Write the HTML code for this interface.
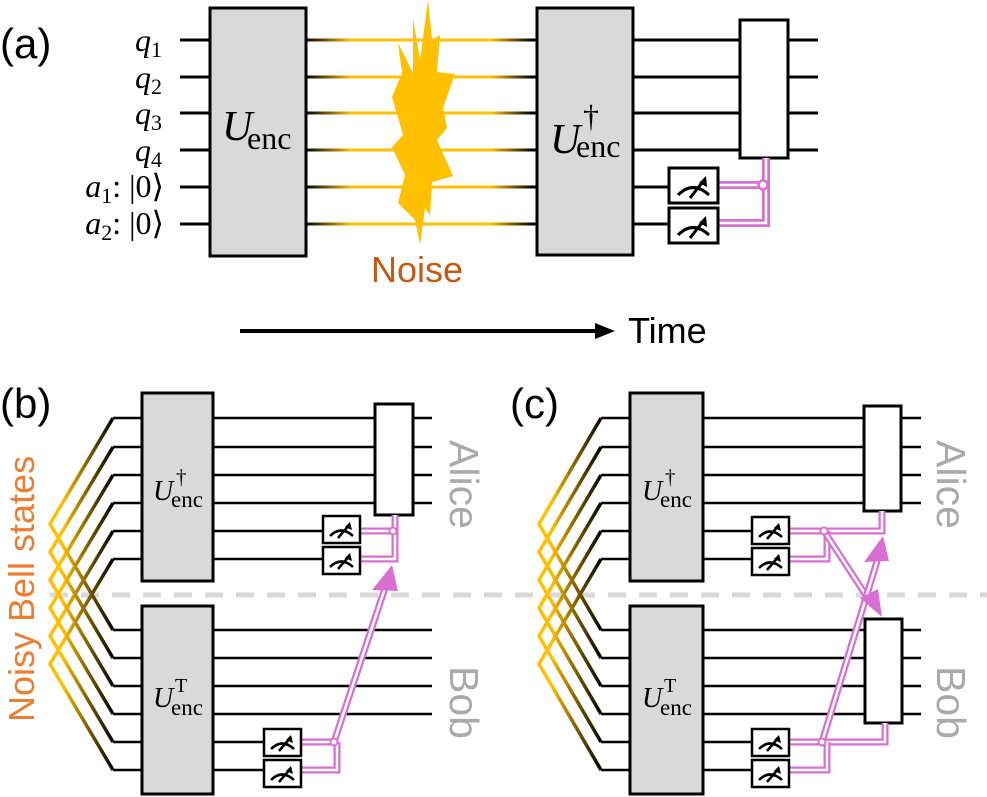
<!DOCTYPE html>
<html><head><meta charset="utf-8"><style>
body{margin:0;background:#fff;}
svg{display:block;}
.sf{font-family:"Liberation Serif",serif;}
.ss{font-family:"Liberation Sans",sans-serif;}
</style></head><body>
<svg width="987" height="797" viewBox="0 0 987 797" xmlns="http://www.w3.org/2000/svg">
<defs>
<linearGradient id="ga" gradientUnits="userSpaceOnUse" x1="306" y1="0" x2="532" y2="0">
<stop offset="0" stop-color="#000"/><stop offset="0.2" stop-color="#ffc000"/><stop offset="0.82" stop-color="#ffc000"/><stop offset="1" stop-color="#000"/></linearGradient>
<linearGradient id="gb" gradientUnits="userSpaceOnUse" x1="50" y1="0" x2="113" y2="0">
<stop offset="0.2" stop-color="#ffc000"/><stop offset="1" stop-color="#000"/></linearGradient>
<linearGradient id="gc" gradientUnits="userSpaceOnUse" x1="539" y1="0" x2="601" y2="0">
<stop offset="0.2" stop-color="#ffc000"/><stop offset="1" stop-color="#000"/></linearGradient>
<g id="meas"><rect x="0" y="0" width="37" height="27" fill="#fff" stroke="#000" stroke-width="2.5"/>
<path d="M7,20 Q18,9 30,20" fill="none" stroke="#000" stroke-width="2.5"/><path d="M15,22 L27,8" stroke="#000" stroke-width="2.5"/><path d="M27,6 L29,14 L22,11 Z" fill="#000"/></g>
<g id="measA"><rect x="0" y="0" width="49" height="35" fill="#fff" stroke="#000" stroke-width="3"/>
<path d="M9,27 Q24,12 40,27" fill="none" stroke="#000" stroke-width="3"/><path d="M21,30 L36,11" stroke="#000" stroke-width="3"/><path d="M37,8 L38,19 L30,15 Z" fill="#000"/></g>
</defs>

<!-- ===== Panel (a) ===== -->
<text x="0" y="58" class="ss" font-size="42">(a)</text>
<g stroke="#000" stroke-width="3">
<path d="M180,40H210M180,77H210M180,113H210M180,150H210M180,187H210M180,224H210"/>
<path d="M633,40H818M633,77H818M633,113H818M633,150H818M633,187H669M633,224H669"/>
</g>
<g stroke="url(#ga)" stroke-width="3">
<path d="M306,40H537M306,77H537M306,113H537M306,150H537M306,187H537M306,224H537"/>
</g>
<polygon fill="#ffc000" points="428,0 432,40 440,35 437,72 455,74 443,108 447,128 437,140 453,176 432,182 430,215 425,208 420,245 415,220 398,203 405,175 392,147 403,135 392,97 402,73 398,43 413,73 413,18 420,60"/>
<rect x="210" y="8" width="96" height="248" fill="#d9d9d9" stroke="#000" stroke-width="3"/>
<rect x="537" y="8" width="96" height="247" fill="#d9d9d9" stroke="#000" stroke-width="3"/>
<text x="222" y="140" class="sf" font-size="42" font-style="italic">U</text><text x="247" y="149" class="sf" font-size="32">enc</text>
<text x="550" y="153" class="sf" font-size="42" font-style="italic">U</text><text x="576" y="157" class="sf" font-size="32">enc</text><text x="583" y="127" class="sf" font-size="32">†</text>
<g class="sf" font-size="32" text-anchor="end">
<text x="162" y="51"><tspan font-style="italic">q</tspan><tspan font-size="22" dy="6">1</tspan></text>
<text x="162" y="88"><tspan font-style="italic">q</tspan><tspan font-size="22" dy="6">2</tspan></text>
<text x="162" y="124"><tspan font-style="italic">q</tspan><tspan font-size="22" dy="6">3</tspan></text>
<text x="162" y="161"><tspan font-style="italic">q</tspan><tspan font-size="22" dy="6">4</tspan></text>
<text x="164" y="197"><tspan font-style="italic">a</tspan><tspan font-size="22" dy="6">1</tspan><tspan dy="-6">: |0⟩</tspan></text>
<text x="164" y="234"><tspan font-style="italic">a</tspan><tspan font-size="22" dy="6">2</tspan><tspan dy="-6">: |0⟩</tspan></text>
</g>
<text x="371" y="282" class="ss" font-size="36" fill="#c55a11">Noise</text>
<rect x="740" y="20" width="48" height="138" fill="#fff" stroke="#000" stroke-width="3"/>
<g fill="none">
<path d="M718,223H766V158" stroke="#d86fd2" stroke-width="8"/><path d="M718,223H766V158" stroke="#fff" stroke-width="2.5"/>
<path d="M718,185H762" stroke="#d86fd2" stroke-width="8"/><path d="M718,185H762" stroke="#fff" stroke-width="2.5"/>
</g>
<circle cx="763" cy="185" r="4.5" fill="#fff" stroke="#d86fd2" stroke-width="2.5"/>
<use href="#measA" x="669" y="168"/><use href="#measA" x="669" y="208"/>
<path d="M240,331H600" stroke="#000" stroke-width="4"/><path d="M615,331L595,323L595,339Z" fill="#000"/>
<text x="628" y="343" class="ss" font-size="36">Time</text>

<!-- dashed line -->
<path d="M50,595H987" stroke="#d9d9d9" stroke-width="5" stroke-dasharray="18,13"/>

<!-- ===== Panel (b) ===== -->
<text x="0" y="418" class="ss" font-size="42">(b)</text>
<g fill="none" stroke="url(#gb)" stroke-width="3.5">
<path d="M113,418L50,524L113,630"/><path d="M113,447L50,552L113,658"/><path d="M113,475L50,580L113,686"/><path d="M113,503L50,608L113,714"/><path d="M113,531L50,636L113,742"/><path d="M113,559L50,664L113,770"/>
</g>
<g stroke="#000" stroke-width="2.5">
<path d="M113,418H432M113,447H432M113,475H432M113,503H432M113,531H323M113,559H323"/>
<path d="M113,630H432M113,658H432M113,686H432M113,714H432M113,742H264M113,770H264"/>
</g>
<rect x="142" y="393" width="71" height="188" fill="#d9d9d9" stroke="#000" stroke-width="3"/>
<rect x="142" y="606" width="71" height="188" fill="#d9d9d9" stroke="#000" stroke-width="3"/>
<text x="153" y="500" class="sf" font-size="28" font-style="italic">U</text><text x="171" y="507" class="sf" font-size="23">enc</text><text x="176" y="484" class="sf" font-size="21">†</text>
<text x="153" y="707" class="sf" font-size="28" font-style="italic">U</text><text x="171" y="715" class="sf" font-size="23">enc</text><text x="175" y="692" class="sf" font-size="20">T</text>
<rect x="375" y="404" width="38" height="111" fill="#fff" stroke="#000" stroke-width="3"/>
<g fill="none">
<path d="M360,559H395V515" stroke="#d86fd2" stroke-width="7"/><path d="M360,559H395V515" stroke="#fff" stroke-width="2.5"/>
<path d="M360,531H392" stroke="#d86fd2" stroke-width="7"/><path d="M360,531H392" stroke="#fff" stroke-width="2.5"/>
<path d="M300,770H337V742" stroke="#d86fd2" stroke-width="7"/><path d="M300,770H337V742" stroke="#fff" stroke-width="2.5"/>
<path d="M300,742H333" stroke="#d86fd2" stroke-width="7"/><path d="M300,742H333" stroke="#fff" stroke-width="2.5"/>
<path d="M334,742L387,582" stroke="#d86fd2" stroke-width="7"/><path d="M334,742L388,579" stroke="#fff" stroke-width="2.5"/>
</g>
<path d="M392,565L372,590L398,591Z" fill="#d86fd2"/>
<circle cx="393" cy="531" r="3.5" fill="#fff" stroke="#d86fd2" stroke-width="2"/>
<circle cx="334" cy="742" r="3.5" fill="#fff" stroke="#d86fd2" stroke-width="2"/>
<use href="#meas" x="323" y="516"/><use href="#meas" x="323" y="547"/>
<use href="#meas" x="264" y="729"/><use href="#meas" x="264" y="760"/>
<text transform="translate(450,440) rotate(90)" class="ss" font-size="41" fill="#aaaaaa">Alice</text>
<text transform="translate(450,666) rotate(90)" class="ss" font-size="41" fill="#aaaaaa">Bob</text>
<text transform="translate(34,722) rotate(-90)" class="ss" font-size="36" fill="#ed7d31">Noisy Bell states</text>

<!-- ===== Panel (c) ===== -->
<text x="510" y="418" class="ss" font-size="42">(c)</text>
<g fill="none" stroke="url(#gc)" stroke-width="3.5">
<path d="M601,418L539,524L601,630"/><path d="M601,447L539,552L601,658"/><path d="M601,475L539,580L601,686"/><path d="M601,503L539,608L601,714"/><path d="M601,531L539,636L601,742"/><path d="M601,559L539,664L601,770"/>
</g>
<g stroke="#000" stroke-width="2.5">
<path d="M601,418H921M601,447H921M601,475H921M601,503H921M601,531H752M601,559H752"/>
<path d="M601,630H921M601,658H921M601,686H921M601,714H921M601,742H752M601,770H752"/>
</g>
<rect x="630" y="393" width="73" height="188" fill="#d9d9d9" stroke="#000" stroke-width="3"/>
<rect x="630" y="606" width="73" height="188" fill="#d9d9d9" stroke="#000" stroke-width="3"/>
<text x="642" y="500" class="sf" font-size="28" font-style="italic">U</text><text x="660" y="507" class="sf" font-size="23">enc</text><text x="665" y="484" class="sf" font-size="21">†</text>
<text x="642" y="707" class="sf" font-size="28" font-style="italic">U</text><text x="660" y="715" class="sf" font-size="23">enc</text><text x="664" y="692" class="sf" font-size="20">T</text>
<rect x="864" y="406" width="37" height="105" fill="#fff" stroke="#000" stroke-width="3"/>
<rect x="865" y="619" width="37" height="104" fill="#fff" stroke="#000" stroke-width="3"/>
<g fill="none">
<path d="M790,531H882V511" stroke="#d86fd2" stroke-width="7"/><path d="M790,531H882V511" stroke="#fff" stroke-width="2.5"/>
<path d="M790,559H827V531" stroke="#d86fd2" stroke-width="7"/><path d="M790,559H827V531" stroke="#fff" stroke-width="2.5"/>
<path d="M790,742H885V723" stroke="#d86fd2" stroke-width="7"/><path d="M790,742H885V723" stroke="#fff" stroke-width="2.5"/>
<path d="M790,770H827V742" stroke="#d86fd2" stroke-width="7"/><path d="M790,770H827V742" stroke="#fff" stroke-width="2.5"/>
<path d="M824,531L869,600" stroke="#d86fd2" stroke-width="7"/><path d="M824,531L871,603" stroke="#fff" stroke-width="2.5"/>
<path d="M822,742L878,558" stroke="#d86fd2" stroke-width="7"/><path d="M822,742L879,555" stroke="#fff" stroke-width="2.5"/>
</g>
<path d="M882,617L860,598L878,589Z" fill="#d86fd2"/>
<path d="M883,536L864,562L889,561Z" fill="#d86fd2"/>
<circle cx="824" cy="531" r="3.5" fill="#fff" stroke="#d86fd2" stroke-width="2"/>
<circle cx="822" cy="742" r="3.5" fill="#fff" stroke="#d86fd2" stroke-width="2"/>
<use href="#meas" x="752" y="517"/><use href="#meas" x="752" y="548"/>
<use href="#meas" x="752" y="729"/><use href="#meas" x="752" y="760"/>
<text transform="translate(937,440) rotate(90)" class="ss" font-size="41" fill="#aaaaaa">Alice</text>
<text transform="translate(937,666) rotate(90)" class="ss" font-size="41" fill="#aaaaaa">Bob</text>
</svg>
</body></html>
